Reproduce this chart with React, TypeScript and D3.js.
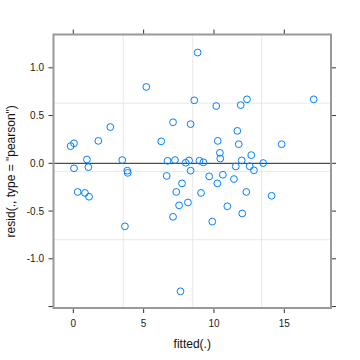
import React from 'react';
import * as d3 from 'd3';

const width = 360;
const height = 360;
const panel = { left: 53.5, right: 331, top: 34.5, bottom: 308 };

// fitted values and pearson residuals
const fitted = [
  -0.19, 0.05, 1.78, 2.63, 5.19, 6.25, 7.09, 8.34, 0.97, 3.48,
  6.70, 7.23, 7.99, 8.23, 8.84, 8.6, 10.16, 11.9, 12.35, 17.09,
  11.66, 10.27, 11.76, 14.81, 10.42, 10.45, 12.65, 11.97, 8.97, 9.25,
  13.5, 8.34, 11.55, 12.54, 12.84, 7.73, 9.66, 10.63, 10.24, 11.42,
  9.08, 12.3, 14.1, 8.15, 7.52, 10.95, 12.01, 9.88, 7.62, 0.05,
  1.07, 0.31, 0.83, 1.12, 3.84, 3.87, 3.67, 6.64, 7.32, 7.09
];
const resid = [
  0.18, 0.21, 0.235, 0.38, 0.80, 0.23, 0.43, 0.41, 0.04, 0.034,
  0.026, 0.034, 0.006, 0.03, 1.16, 0.66, 0.60, 0.61, 0.67, 0.67,
  0.34, 0.235, 0.20, 0.20, 0.11, 0.05, 0.086, 0.03, 0.027, 0.01,
  0.003, -0.077, -0.033, -0.031, -0.073, -0.21, -0.137, -0.12, -0.21, -0.165,
  -0.31, -0.30, -0.34, -0.41, -0.44, -0.45, -0.525, -0.61, -1.34, -0.052,
  -0.04, -0.30, -0.31, -0.35, -0.077, -0.10, -0.66, -0.132, -0.30, -0.56
];

const xTicks = [0, 5, 10, 15];
const yTicks = [-1.5, -1.0, -0.5, 0.0, 0.5, 1.0];
const yTickLabels = ['', '-1.0', '-0.5', '0.0', '0.5', '1.0'];
const vGrid = [3.55, 8.49, 13.39];
const hGrid = [0.63, -0.084, -0.80];

const font = '"Liberation Sans", Arial, sans-serif';

export default function App() {
  const x = d3.scaleLinear().domain([-1.408, 18.32]).range([panel.left, panel.right]);
  const y = d3.scaleLinear().domain([-1.515, 1.349]).range([panel.bottom, panel.top]);
  const tick = 5;

  return (
    <svg width={width} height={height} style={{ position: 'absolute', left: 0, top: 0 }}>
      <rect x={0} y={0} width={width} height={height} fill="white" />
      {/* grid */}
      {vGrid.map((g, i) => (
        <line key={'v' + i} x1={x(g)} x2={x(g)} y1={panel.top} y2={panel.bottom} stroke="#e8e8e8" strokeWidth={1} />
      ))}
      {hGrid.map((g, i) => (
        <line key={'h' + i} x1={panel.left} x2={panel.right} y1={y(g)} y2={y(g)} stroke="#e8e8e8" strokeWidth={1} />
      ))}
      {/* zero reference line */}
      <line x1={panel.left} x2={panel.right} y1={y(0)} y2={y(0)} stroke="#222" strokeWidth={1} />
      {/* points */}
      {fitted.map((f, i) => (
        <circle key={i} cx={x(f)} cy={y(resid[i])} r={3.4} fill="none" stroke="#0080ff" strokeWidth={1} />
      ))}
      {/* ticks */}
      {xTicks.map((t) => (
        <g key={'xt' + t}>
          <line x1={x(t)} x2={x(t)} y1={panel.bottom} y2={panel.bottom + tick} stroke="#333" />
          <line x1={x(t)} x2={x(t)} y1={panel.top} y2={panel.top - tick} stroke="#333" />
          <text x={x(t)} y={327} textAnchor="middle" fontSize={10} fontFamily={font} fill="#222">{t}</text>
        </g>
      ))}
      {yTicks.map((t, i) => (
        <g key={'yt' + t}>
          <line x1={panel.left} x2={panel.left - tick} y1={y(t)} y2={y(t)} stroke="#333" />
          <line x1={panel.right} x2={panel.right + tick} y1={y(t)} y2={y(t)} stroke="#333" />
          <text x={44} y={y(t)} dy="0.35em" textAnchor="end" fontSize={10} fontFamily={font} fill="#222">{yTickLabels[i]}</text>
        </g>
      ))}
      {/* panel border */}
      <rect x={panel.left} y={panel.top} width={panel.right - panel.left} height={panel.bottom - panel.top}
        fill="none" stroke="#999" strokeWidth={2} />
      {/* axis titles */}
      <text x={(panel.left + panel.right) / 2} y={348} textAnchor="middle" fontSize={12} fontFamily={font} fill="#111">fitted(.)</text>
      <text transform={`translate(15,${(panel.top + panel.bottom) / 2}) rotate(-90)`} textAnchor="middle"
        fontSize={12} fontFamily={font} fill="#111">resid(., type = "pearson")</text>
    </svg>
  );
}
